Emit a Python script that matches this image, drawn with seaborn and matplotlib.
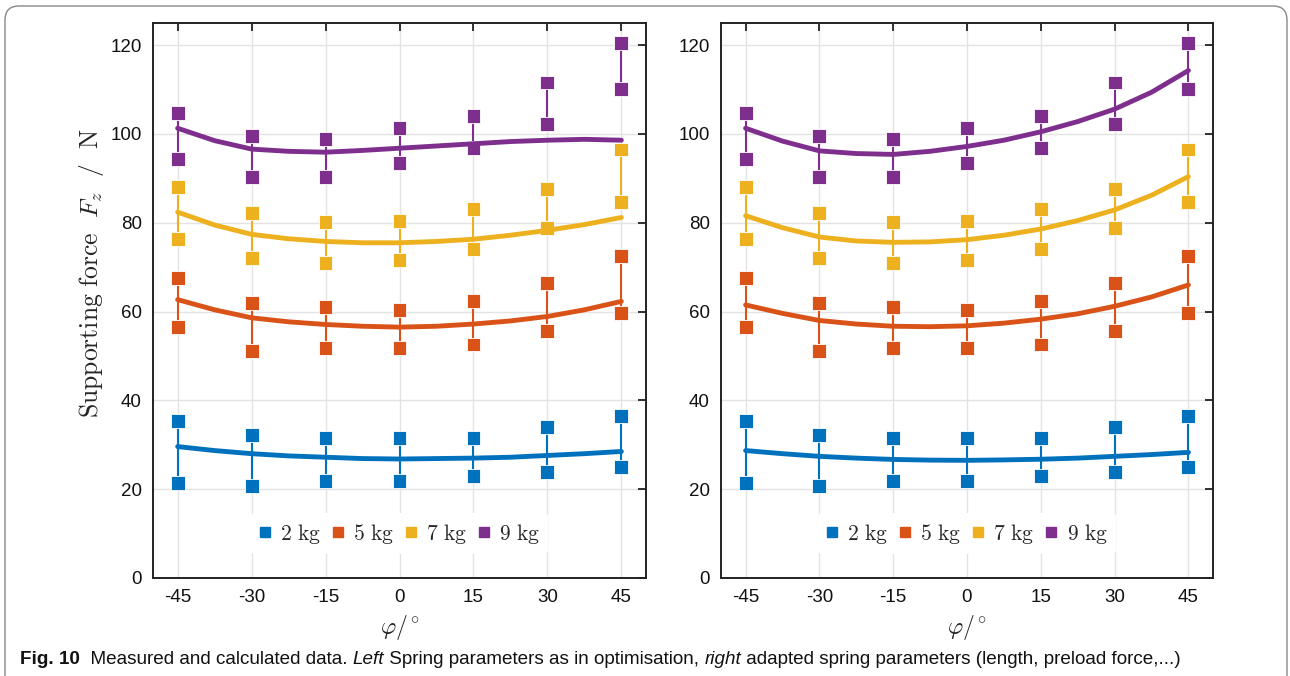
import numpy as np
import pandas as pd
import matplotlib
matplotlib.use("Agg")
import matplotlib.pyplot as plt
import seaborn as sns
from matplotlib.lines import Line2D
from matplotlib.patches import FancyBboxPatch
from matplotlib.transforms import IdentityTransform
from matplotlib import font_manager

# ---------------- data ----------------
angles = [-45, -30, -15, 0, 15, 30, 45]
masses = ["2 kg", "5 kg", "7 kg", "9 kg"]
colors = ["#0072BD", "#D95319", "#EDB120", "#7E2F8E"]

meas_upper_2 = [35.4, 32.3, 31.6, 31.6, 31.6, 34.1, 36.4]
meas_lower_2 = [21.4, 20.7, 21.8, 21.8, 22.9, 23.8, 24.9]
meas_upper_5 = [67.5, 62.0, 61.0, 60.3, 62.4, 66.5, 72.6]
meas_lower_5 = [56.6, 51.2, 51.9, 51.9, 52.6, 55.6, 59.7]
meas_upper_7 = [88.0, 82.2, 80.1, 80.4, 83.2, 87.6, 96.5]
meas_lower_7 = [76.4, 72.0, 71.0, 71.6, 74.0, 78.8, 84.6]
meas_upper_9 = [104.7, 99.6, 98.9, 101.3, 104.0, 111.6, 120.4]
meas_lower_9 = [94.4, 90.4, 90.4, 93.5, 96.9, 102.3, 110.1]

fit_angles = [-45, -37.5, -30, -22.5, -15, -7.5, 0, 7.5, 15, 22.5, 30, 37.5, 45]
# left panel: spring parameters as in optimisation
fit_left_2 = [29.6, 28.7, 28.0, 27.5, 27.2, 26.9, 26.8, 26.9, 27.0, 27.2, 27.6, 28.0, 28.5]
fit_left_5 = [62.7, 60.4, 58.6, 57.7, 57.1, 56.7, 56.5, 56.7, 57.2, 57.9, 58.9, 60.4, 62.3]
fit_left_7 = [82.4, 79.5, 77.4, 76.4, 75.8, 75.5, 75.5, 75.8, 76.3, 77.2, 78.3, 79.6, 81.2]
fit_left_9 = [101.3, 98.5, 96.6, 96.1, 95.9, 96.3, 96.8, 97.3, 97.8, 98.3, 98.6, 98.8, 98.6]
# right panel: adapted spring parameters
fit_right_2 = [28.7, 28.0, 27.4, 27.0, 26.7, 26.55, 26.5, 26.6, 26.75, 27.0, 27.4, 27.8, 28.3]
fit_right_5 = [61.5, 59.6, 58.0, 57.2, 56.7, 56.6, 56.8, 57.4, 58.3, 59.5, 61.2, 63.3, 66.0]
fit_right_7 = [81.6, 78.9, 76.8, 75.9, 75.6, 75.7, 76.2, 77.2, 78.6, 80.5, 82.9, 86.2, 90.4]
fit_right_9 = [101.3, 98.4, 96.2, 95.6, 95.4, 96.1, 97.2, 98.6, 100.5, 102.8, 105.6, 109.4, 114.3]

y_ticks = [0, 20, 40, 60, 80, 100, 120]
x_ticks = [-45, -30, -15, 0, 15, 30, 45]

meas_upper = [meas_upper_2, meas_upper_5, meas_upper_7, meas_upper_9]
meas_lower = [meas_lower_2, meas_lower_5, meas_lower_7, meas_lower_9]
fits = {
    "left": [fit_left_2, fit_left_5, fit_left_7, fit_left_9],
    "right": [fit_right_2, fit_right_5, fit_right_7, fit_right_9],
}

# ---------------- style ----------------
sns.set_style("white")
plt.rcParams["font.family"] = ["Liberation Sans", "DejaVu Sans"]
plt.rcParams["mathtext.fontset"] = "cm"

W, H = 1290, 676
fig = plt.figure(figsize=(W / 100, H / 100), dpi=100)

ax_l = fig.add_axes([153 / W, (H - 578) / H, 493 / W, 555 / H])
ax_r = fig.add_axes([721 / W, (H - 578) / H, 492 / W, 555 / H])

palette = dict(zip(masses, colors))

meas_rows = []
for m, up, lo in zip(masses, meas_upper, meas_lower):
    for a, u, l in zip(angles, up, lo):
        meas_rows.append({"angle": a, "upper": u, "lower": l, "mass": m})
meas_df = pd.DataFrame(meas_rows)

for key, ax in (("left", ax_l), ("right", ax_r)):
    fit_rows = []
    for m, vals in zip(masses, fits[key]):
        for a, v in zip(fit_angles, vals):
            fit_rows.append({"angle": a, "force": v, "mass": m})
    fit_df = pd.DataFrame(fit_rows)

    ax.grid(True, color="#e3e3e3", linewidth=1.0, zorder=0)
    ax.set_axisbelow(True)

    for m, c in zip(masses, colors):
        sub = meas_df[meas_df["mass"] == m]
        ax.vlines(sub["angle"], sub["lower"], sub["upper"], colors=c,
                  linewidth=1.5, zorder=2)
    for col in ("upper", "lower"):
        sns.scatterplot(data=meas_df, x="angle", y=col, hue="mass",
                        palette=palette, marker="s", s=100, linewidth=0.6,
                        edgecolor="white", alpha=1.0, legend=False, ax=ax,
                        zorder=3)
    sns.lineplot(data=fit_df, x="angle", y="force", hue="mass",
                 palette=palette, linewidth=3.5, legend=False, ax=ax,
                 sort=False, estimator=None, zorder=4)

    ax.set_xlim(-50, 50)
    ax.set_ylim(0, 125)
    ax.set_xticks(x_ticks)
    ax.set_xticklabels([str(t) for t in x_ticks])
    ax.set_yticks(y_ticks)
    ax.tick_params(direction="in", length=6, width=1.3, color="#222222",
                   top=True, right=True, labelsize=13.5, pad=8,
                   labelcolor="#111111")
    for sp in ax.spines.values():
        sp.set_visible(True)
        sp.set_color("#222222")
        sp.set_linewidth(1.4)
    ax.set_xlabel(r"$\varphi/^{\circ}$", fontsize=17, labelpad=5)
    ax.set_ylabel("")

    handles = [Line2D([], [], linestyle="none", marker="s", markersize=7,
                      markerfacecolor=c, markeredgecolor=c) for c in colors]
    labels = [r"$%s\ \mathrm{kg}$" % m.split()[0] for m in masses]
    leg = ax.legend(handles, labels, loc="center",
                    bbox_to_anchor=(0.5, 0.08), ncol=4, fontsize=15.5,
                    frameon=True, facecolor="white", edgecolor="none",
                    framealpha=1.0, handlelength=0.5, handletextpad=0.45,
                    columnspacing=0.55, borderpad=0.4)
    leg.set_zorder(5)

ax_l.set_ylabel(r"$\mathrm{Supporting\ force}\ \ F_z\ \ /\ \ \mathrm{N}$",
                fontsize=18.5)
ax_l.yaxis.set_label_coords(-0.095, 0.55)

# ---------------- caption ----------------
names = {f.name for f in font_manager.fontManager.ttflist}
cap_family = "Liberation Sans Narrow" if "Liberation Sans Narrow" in names else "Liberation Sans"
pieces = [
    ("Fig. 10", "bold", "normal"),
    ("  Measured and calculated data. ", "normal", "normal"),
    ("Left", "normal", "italic"),
    (" Spring parameters as in optimisation, ", "normal", "normal"),
    ("right", "normal", "italic"),
    (" adapted spring parameters (length, preload force,...)", "normal", "normal"),
]
renderer = fig.canvas.get_renderer()
base = 10.0
tmp = []
total = 0.0
for txt, wt, st in pieces:
    t = fig.text(0, 0, txt, fontsize=base, fontweight=wt, fontstyle=st,
                 family=cap_family)
    total += t.get_window_extent(renderer).width
    tmp.append(t)
for t in tmp:
    t.remove()
size = base * (1168.0 / total)
x = 20.0
for txt, wt, st in pieces:
    t = fig.text(x / W, (H - 660) / H, txt, fontsize=size, fontweight=wt,
                 fontstyle=st, family=cap_family, va="center", ha="left",
                 color="#111111")
    x += t.get_window_extent(renderer).width

# ---------------- border ----------------
border = FancyBboxPatch((5, -40), 1282, H - 6 + 40,
                        boxstyle="round,pad=0,rounding_size=14",
                        transform=IdentityTransform(), facecolor="none",
                        edgecolor="#888888", linewidth=1.0)
fig.patches.append(border)

fig.savefig("out.png", dpi=100)
